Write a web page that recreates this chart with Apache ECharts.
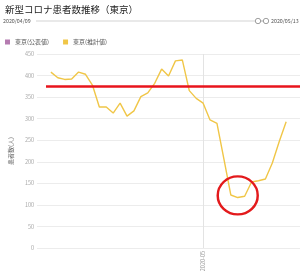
<!DOCTYPE html>
<html lang="ja">
<head>
<meta charset="UTF-8">
<title>新型コロナ患者数推移（東京）</title>
<script src="https://cdn.jsdelivr.net/npm/echarts@6/dist/echarts.min.js"></script>
<style>
  html, body { margin: 0; padding: 0; background: #fff; }
  #main { width: 300px; height: 278px; }
</style>
</head>
<body>
<div id="main"></div>
<script>
// data
var titleText = '新型コロナ患者数推移（東京）';
var seriesNames = ['東京(公表値)', '東京(推計値)'];
var dates = ['2020-04-09','2020-04-10','2020-04-11','2020-04-12','2020-04-13','2020-04-14','2020-04-15',
             '2020-04-16','2020-04-17','2020-04-18','2020-04-19','2020-04-20','2020-04-21','2020-04-22',
             '2020-04-23','2020-04-24','2020-04-25','2020-04-26','2020-04-27','2020-04-28','2020-04-29',
             '2020-04-30','2020-05-01','2020-05-02','2020-05-03','2020-05-04','2020-05-05','2020-05-06',
             '2020-05-07','2020-05-08','2020-05-09','2020-05-10','2020-05-11','2020-05-12','2020-05-13'];
var published = [];   // 公表値: nothing drawn in this window
var estimated = [408, 395, 391, 392, 408, 403, 378, 327, 327, 313, 336, 306, 318, 351, 360, 382, 415, 399,
                 434, 436, 365, 347, 336, 297, 289, 207, 123, 117, 120, 153, 156, 160, 197, 247, 293];
var axisMin = '2020-04-07', axisMax = '2020-05-15';
var refLineValue = 376;
var refLineStart = '2020-04-08 07:00';
var circleDate = '2020-05-06', circleValue = 122;

var colors = ['#b57bb0', '#f0c647'];
var font = "'Noto Sans CJK JP', 'Noto Sans', sans-serif";

function pairs(xs, ys) {
  return ys.map(function (y, i) { return [xs[i], y]; });
}

var chart = echarts.init(document.getElementById('main'), null, { renderer: 'canvas' });

var option = {
  animation: false,
  color: colors,
  textStyle: { fontFamily: font },
  title: {
    text: titleText,
    left: 0, top: 0,
    textStyle: { fontSize: 9.5, fontWeight: 'normal', color: '#222', fontFamily: font }
  },
  legend: {
    left: 0, top: 34,
    icon: 'rect',
    itemWidth: 5, itemHeight: 5,
    itemGap: 14,
    textStyle: { fontSize: 6, color: '#555' },
    data: seriesNames
  },
  grid: { left: 27, right: -2, top: 54, bottom: 30, containLabel: false },
  xAxis: {
    type: 'time',
    min: axisMin, max: axisMax,
    minInterval: 28 * 86400000,
    axisLine: { show: false },
    axisTick: { show: false },
    axisLabel: {
      rotate: 90, fontSize: 5.5, color: '#999', margin: 3,
      showMinLabel: false, showMaxLabel: false,
      formatter: '{yyyy}-{MM}'
    },
    splitLine: { show: true, showMinLine: false, showMaxLine: false, lineStyle: { color: '#e3e3e3', width: 1 } }
  },
  yAxis: {
    type: 'value',
    min: 0, max: 450, interval: 50,
    name: '患者数(人)',
    nameLocation: 'middle',
    nameGap: 17,
    nameTextStyle: { fontSize: 6, color: '#666' },
    axisLine: { show: false },
    axisTick: { show: false },
    axisLabel: { fontSize: 5.5, color: '#aaa', margin: 3 },
    splitLine: { lineStyle: { color: '#ececec', width: 1 } }
  },
  series: [
    {
      name: seriesNames[0],
      type: 'line',
      data: pairs(dates, published),
      showSymbol: false
    },
    {
      name: seriesNames[1],
      type: 'line',
      data: pairs(dates, estimated),
      showSymbol: false,
      lineStyle: { width: 1.4, color: colors[1] },
      markLine: {
        silent: true,
        symbol: 'none',
        label: { show: false },
        lineStyle: { color: '#e8141c', width: 2.6, type: 'solid' },
        data: [[{ coord: [refLineStart, refLineValue] }, { coord: [axisMax, refLineValue] }]]
      },
      markPoint: {
        silent: true,
        symbol: 'circle',
        symbolSize: [40, 38],
        label: { show: false },
        itemStyle: { color: 'rgba(0,0,0,0)', borderColor: '#e31a1c', borderWidth: 2.4 },
        data: [{ coord: [circleDate, circleValue] }]
      }
    }
  ],
  graphic: [
    { type: 'line', shape: { x1: 36, y1: 21, x2: 255, y2: 21 }, style: { stroke: '#e2e2e2', lineWidth: 1.5 } },
    { type: 'line', shape: { x1: 260, y1: 21, x2: 264, y2: 21 }, style: { stroke: '#999', lineWidth: 0.8 } },
    { type: 'circle', shape: { cx: 258, cy: 21, r: 2.7 }, style: { fill: '#fff', stroke: '#888', lineWidth: 0.8 } },
    { type: 'circle', shape: { cx: 266, cy: 21, r: 2.7 }, style: { fill: '#fff', stroke: '#888', lineWidth: 0.8 } },
    { type: 'text', x: 3, y: 21, style: { text: dates[0].replace(/-/g, '/'), fontSize: 5.3, fill: '#555', verticalAlign: 'middle', fontFamily: font } },
    { type: 'text', x: 271, y: 21, style: { text: dates[dates.length - 1].replace(/-/g, '/'), fontSize: 5.3, fill: '#555', verticalAlign: 'middle', fontFamily: font } }
  ]
};

chart.setOption(option);
</script>
</body>
</html>
